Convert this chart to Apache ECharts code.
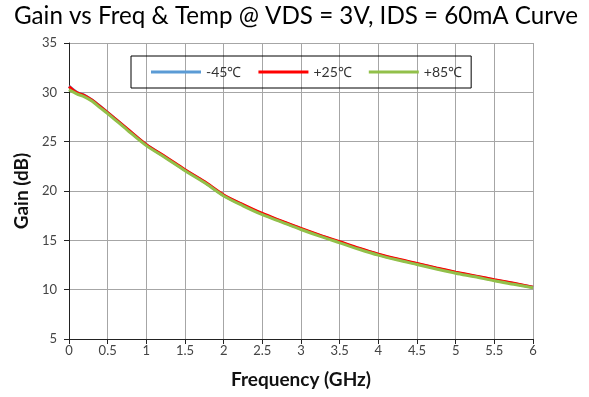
<!DOCTYPE html>
<html>
<head>
<meta charset="utf-8">
<script src="https://cdn.jsdelivr.net/npm/echarts@6/dist/echarts.min.js"></script>
<style>
  html, body { margin: 0; padding: 0; background: #fff; }
  #chart { width: 589px; height: 397px; }
</style>
</head>
<body>
<div id="chart"></div>
<script>
// Frequency sweep points (GHz)
const freq = [0, 0.1, 0.2, 0.3, 0.4, 0.5, 0.75, 1.0, 1.25, 1.5, 1.75, 2.0, 2.25, 2.5, 2.75,
              3.0, 3.25, 3.5, 3.75, 4.0, 4.25, 4.5, 4.75, 5.0, 5.25, 5.5, 5.75, 6.0];

// Gain (dB) at each temperature
const gainM45 = [30.62, 30.0, 29.7, 29.2, 28.6, 27.95, 26.3, 24.68, 23.42, 22.12, 20.92, 19.56, 18.58, 17.68, 16.92,
                 16.17, 15.47, 14.82, 14.17, 13.57, 13.07, 12.62, 12.17, 11.74, 11.37, 10.98, 10.62, 10.24];
const gainP25 = [30.58, 29.98, 29.68, 29.2, 28.58, 27.95, 26.32, 24.7, 23.45, 22.15, 20.95, 19.6, 18.62, 17.72, 16.95,
                 16.2, 15.5, 14.86, 14.2, 13.6, 13.1, 12.66, 12.2, 11.78, 11.4, 11.02, 10.65, 10.26];
const gainP85 = [30.27, 29.85, 29.55, 29.1, 28.45, 27.85, 26.2, 24.6, 23.35, 22.05, 20.85, 19.5, 18.5, 17.6, 16.85,
                 16.1, 15.4, 14.75, 14.1, 13.5, 13.0, 12.55, 12.1, 11.67, 11.3, 10.9, 10.55, 10.2];

const seriesNames = ['-45\u2103', '+25\u2103', '+85\u2103'];
const titleText = 'Gain vs Freq & Temp @ VDS = 3V, IDS = 60mA Curve';
const xName = 'Frequency (GHz)';
const yName = 'Gain (dB)';

const pairs = arr => freq.map((f, i) => [f, arr[i]]);

const chart = echarts.init(document.getElementById('chart'));
const font = 'Lato, "Liberation Sans", sans-serif';

function line(name, data, color) {
  return {
    name, type: 'line', data: pairs(data), smooth: 0.3, symbol: 'none',
    lineStyle: { color, width: 3 }, itemStyle: { color }
  };
}

chart.setOption({
  animation: false,
  title: {
    text: titleText, left: 9, top: -1,
    textStyle: { fontFamily: font, fontSize: 24.2, fontWeight: 'normal', color: '#000' }
  },
  legend: {
    left: 131, top: 56,
    padding: [9, 9, 9, 20],
    borderColor: '#000', borderWidth: 1,
    itemWidth: 50, itemHeight: 3, itemGap: 17,
    icon: 'rect',
    textStyle: { fontFamily: font, fontSize: 14, color: '#333' },
    data: seriesNames
  },
  grid: { left: 69, top: 43, width: 464, height: 296, containLabel: false },
  xAxis: {
    type: 'value', min: 0, max: 6, interval: 0.5,
    name: xName, nameLocation: 'middle', nameGap: 31,
    nameTextStyle: { fontFamily: font, fontSize: 19, fontWeight: 'bold', color: '#111' },
    axisLine: { lineStyle: { color: '#222', width: 1 } },
    axisTick: { show: true, length: 5, lineStyle: { color: '#222' } },
    axisLabel: { fontFamily: font, fontSize: 13, color: '#444', margin: 5 },
    splitLine: { show: true, lineStyle: { color: '#a6a6a6', width: 1 } }
  },
  yAxis: {
    type: 'value', min: 5, max: 35, interval: 5,
    name: yName, nameLocation: 'middle', nameGap: 33, nameRotate: 90,
    nameTextStyle: { fontFamily: font, fontSize: 19, fontWeight: 'bold', color: '#111' },
    axisLine: { show: true, lineStyle: { color: '#222', width: 1 } },
    axisTick: { show: true, length: 5, lineStyle: { color: '#222' } },
    axisLabel: { fontFamily: font, fontSize: 13, color: '#444', margin: 12 },
    splitLine: { show: true, lineStyle: { color: '#a6a6a6', width: 1 } }
  },
  series: [
    line(seriesNames[0], gainM45, '#5b9bd5'),
    line(seriesNames[1], gainP25, '#ff0000'),
    line(seriesNames[2], gainP85, '#92c04a')
  ]
});
</script>
</body>
</html>
